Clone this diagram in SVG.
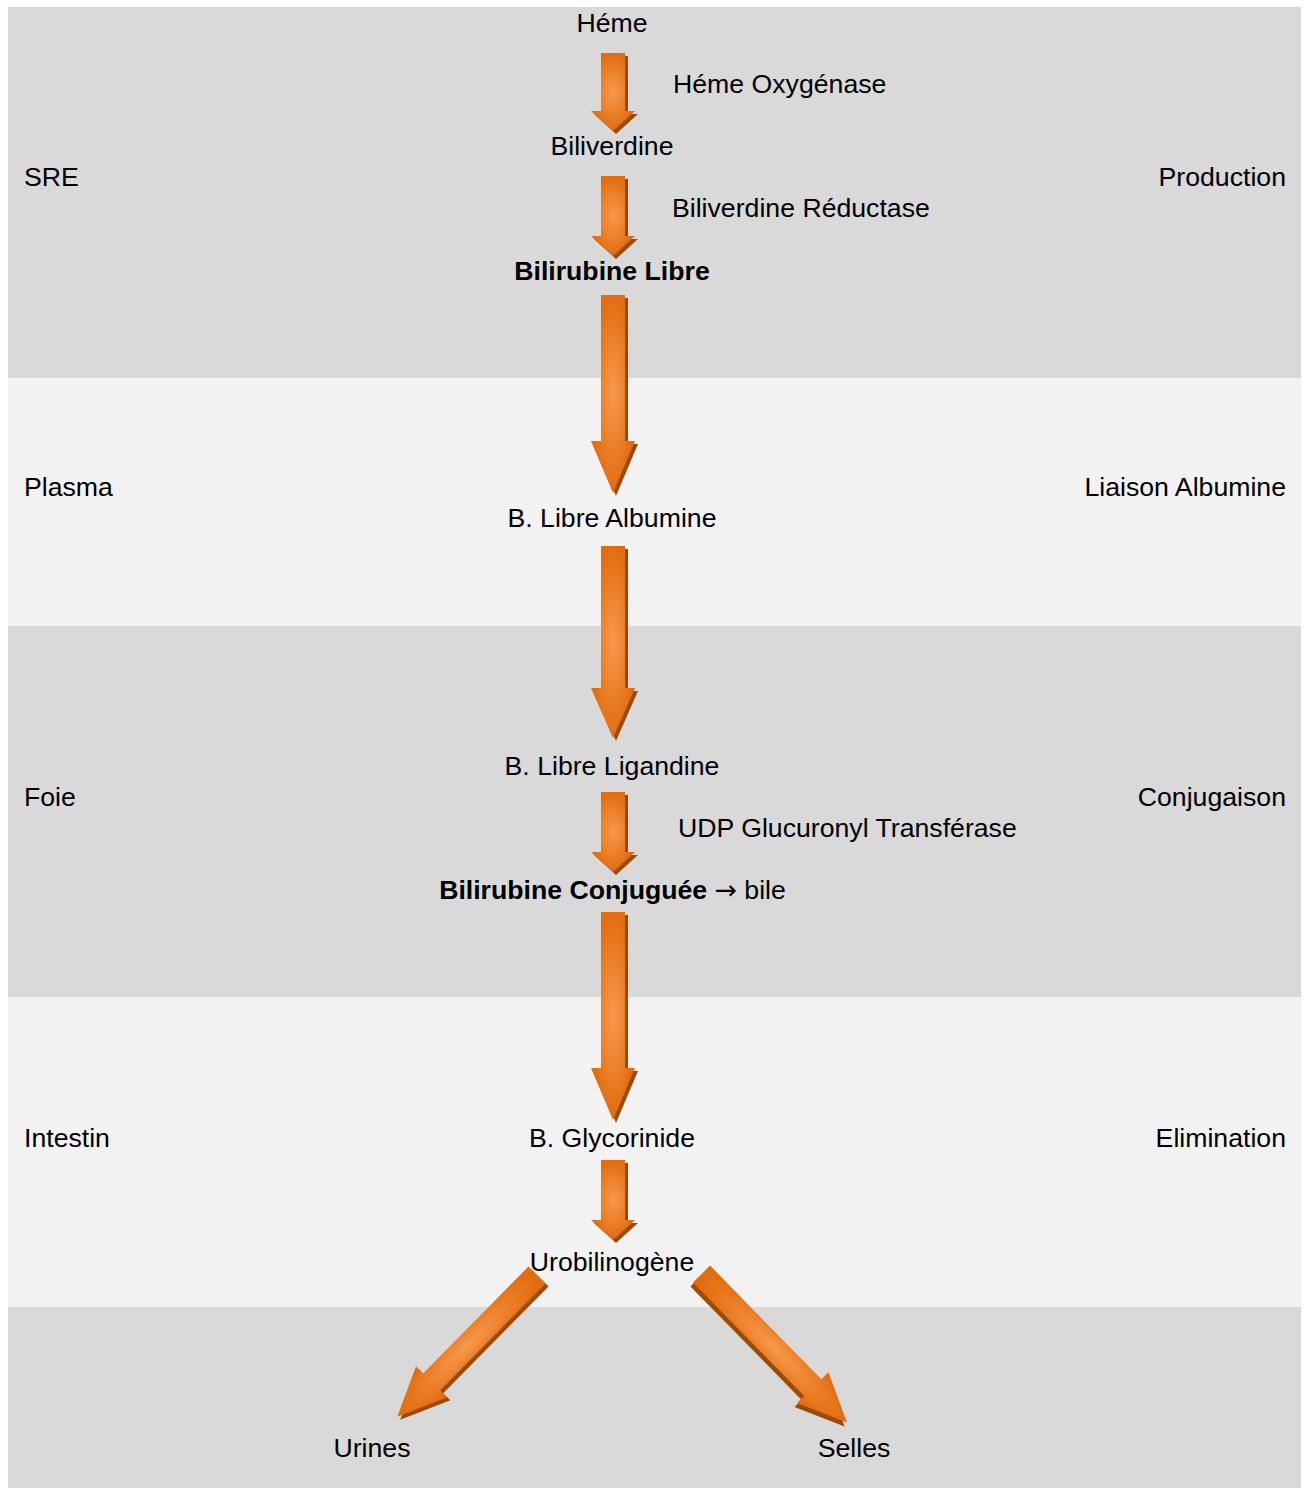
<svg xmlns="http://www.w3.org/2000/svg" width="1306" height="1488" viewBox="0 0 1306 1488">
<style>
text{font-family:"Liberation Sans",Arial,sans-serif;font-size:26.67px;fill:#000}
.c{text-anchor:middle}
.r{text-anchor:end}
.b{font-weight:bold}
.n{font-weight:normal}
.ak{font-family:"DejaVu Sans",sans-serif;font-weight:normal}
.sh{fill:#9c4a06}
.ar{fill:url(#og)}
</style>
<defs>
<radialGradient id="og" cx="0.5" cy="0.5" r="0.5">
<stop offset="0" stop-color="#f79a4e"/>
<stop offset="1" stop-color="#e26c0e"/>
</radialGradient>
</defs>
<rect x="0" y="0" width="1306" height="1488" fill="#ffffff"/>
<g id="bands">
<rect x="8" y="7" width="1293" height="371" fill="#d9d9d9"/>
<rect x="8" y="378" width="1293" height="248" fill="#f2f2f2"/>
<rect x="8" y="626" width="1293" height="371" fill="#d9d9d9"/>
<rect x="8" y="997" width="1293" height="310" fill="#f2f2f2"/>
<rect x="8" y="1307" width="1293" height="181" fill="#d9d9d9"/>
</g>
<g id="connectors">
<g id="a1"><path class="sh" transform="translate(3,3)" d="M601,53H625V111H635L613,131L591,111H601Z"/><path class="ar" d="M601,53H625V111H635L613,131L591,111H601Z"/></g>
<g id="a2"><path class="sh" transform="translate(3,3)" d="M601,176H625V236H635L613,256L591,236H601Z"/><path class="ar" d="M601,176H625V236H635L613,256L591,236H601Z"/></g>
<g id="a3"><path class="sh" transform="translate(3,3)" d="M601,295H625V441H635L613,493L591,441H601Z"/><path class="ar" d="M601,295H625V441H635L613,493L591,441H601Z"/></g>
<g id="a4"><path class="sh" transform="translate(3,3)" d="M601,546H625V688H635L613,738L591,688H601Z"/><path class="ar" d="M601,546H625V688H635L613,738L591,688H601Z"/></g>
<g id="a5"><path class="sh" transform="translate(3,3)" d="M601,792H625V852H635L613,872L591,852H601Z"/><path class="ar" d="M601,792H625V852H635L613,872L591,852H601Z"/></g>
<g id="a6"><path class="sh" transform="translate(3,3)" d="M601,912H625V1068H635L613,1120L591,1068H601Z"/><path class="ar" d="M601,912H625V1068H635L613,1120L591,1068H601Z"/></g>
<g id="a7"><path class="sh" transform="translate(3,3)" d="M601,1160H625V1220H635L613,1240L591,1220H601Z"/><path class="ar" d="M601,1160H625V1220H635L613,1240L591,1220H601Z"/></g>
<g id="a8">
<path class="sh" transform="translate(540,1278) rotate(44.6)" d="M-12,0H12V150H22L0,199L-22,150H-12Z"/>
<path class="ar" transform="translate(537,1275) rotate(44.6)" d="M-12,0H12V150H22L0,199L-22,150H-12Z"/>
</g>
<g id="a9">
<path class="sh" transform="translate(699,1278) rotate(-44.4)" d="M-12,0H12V159H22L0,208L-22,159H-12Z"/>
<path class="ar" transform="translate(701.5,1274) rotate(-44.4)" d="M-12,0H12V159H22L0,208L-22,159H-12Z"/>
</g>
</g>
<g id="n-heme"><text class="c" x="612" y="31.5">Héme</text></g>
<g id="l-hemeox"><text x="673" y="93">Héme Oxygénase</text></g>
<g id="n-biliverdine"><text class="c" x="612" y="155">Biliverdine</text></g>
<g id="l-bilired"><text x="672" y="217">Biliverdine Réductase</text></g>
<g id="n-bililibre"><text class="c b" x="612" y="280">Bilirubine Libre</text></g>
<g id="n-albumine"><text class="c" x="612" y="527">B. Libre Albumine</text></g>
<g id="n-ligandine"><text class="c" x="612" y="775">B. Libre Ligandine</text></g>
<g id="l-udp"><text x="678" y="837">UDP Glucuronyl Transférase</text></g>
<g id="n-conj"><text class="c b" x="612.5" y="899">Bilirubine Conjuguée <tspan class="ak">→</tspan><tspan class="n"> bile</tspan></text></g>
<g id="n-glyco"><text class="c" x="612" y="1147">B. Glycorinide</text></g>
<g id="n-uro"><text class="c" x="612" y="1271">Urobilinogène</text></g>
<g id="n-urines"><text class="c" x="372" y="1457">Urines</text></g>
<g id="n-selles"><text class="c" x="854" y="1457">Selles</text></g>
<g id="zones">
<text x="24" y="186">SRE</text>
<text x="24" y="496">Plasma</text>
<text x="24" y="806">Foie</text>
<text x="24" y="1147">Intestin</text>
<text class="r" x="1286" y="186">Production</text>
<text class="r" x="1286" y="496">Liaison Albumine</text>
<text class="r" x="1286" y="806">Conjugaison</text>
<text class="r" x="1286" y="1147">Elimination</text>
</g>
</svg>
